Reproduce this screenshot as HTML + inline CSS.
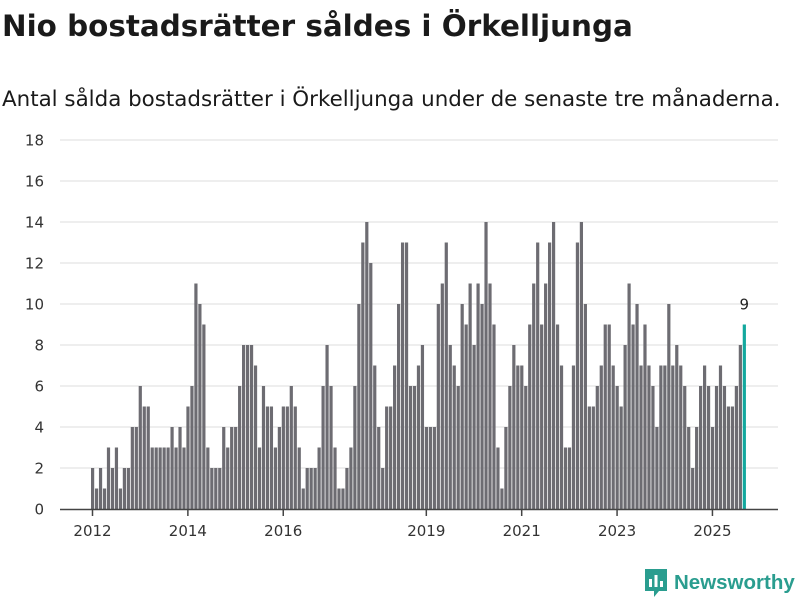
<!DOCTYPE html>
<html><head><meta charset="utf-8"><style>
body{margin:0;width:800px;height:600px;background:#fff;font-family:"DejaVu Sans","Liberation Sans",sans-serif;overflow:hidden;position:relative}
#title{position:absolute;left:2px;top:9px;font-size:29.4px;font-weight:bold;color:#1a1a1a;white-space:nowrap}
#sub{position:absolute;left:2px;top:87px;font-size:21.4px;color:#1a1a1a;white-space:nowrap}
svg{position:absolute;left:0;top:0}
#logo{position:absolute;left:645px;top:569px;display:flex;align-items:center}
#logo span{font-size:20.5px;color:#2a9d8f;font-weight:bold;margin-left:7px;font-family:"Liberation Sans",sans-serif}
</style></head><body>
<div id="title">Nio bostadsrätter såldes i Örkelljunga</div>
<div id="sub">Antal sålda bostadsrätter i Örkelljunga under de senaste tre månaderna.</div>
<svg id="chart" width="800" height="600"></svg>
<div id="logo">
<svg width="22" height="28" viewBox="0 0 22 28" style="position:static"><path d="M0 0h22v22h-8l-5 6v-6H0z" fill="#2a9d8f"/><rect x="4" y="10" width="3" height="8" fill="#fff"/><rect x="9.5" y="6" width="3" height="12" fill="#fff"/><rect x="15" y="12" width="3" height="6" fill="#fff"/></svg>
<span>Newsworthy</span></div>
<script>
const values=[2,1,2,1,3,2,3,1,2,2,4,4,6,5,5,3,3,3,3,3,4,3,4,3,5,6,11,10,9,3,2,2,2,4,3,4,4,6,8,8,
8,7,3,6,5,5,3,4,5,5,6,5,3,1,2,2,2,3,6,8,6,3,1,1,2,3,6,10,13,14,12,7,4,2,5,5,7,10,13,13,6,6,7,
8,4,4,4,10,11,13,8,7,6,10,9,11,8,11,10,14,11,9,3,1,4,6,8,7,7,6,9,11,13,9,11,13,14,9,7,3,3,7,13,14,10,
5,5,6,7,9,9,7,6,5,8,11,9,10,7,9,7,6,4,7,7,10,7,8,7,6,4,2,4,6,7,6,4,6,7,6,5,5,6,8,9];
const yTicks=[0,2,4,6,8,10,12,14,16,18];
const yearLabels=["2012","2014","2016","2019","2021","2023","2025"];
const yearIndex=[0,24,48,84,108,132,156];
const NS="http://www.w3.org/2000/svg";
const svg=document.getElementById('chart');
const x0=91,step=3.974,y0=509,yUnit=20.5;
const x=i=>x0+i*step;
const y=v=>y0-v*yUnit;
function mk(t,a){const e=document.createElementNS(NS,t);for(const k in a)e.setAttribute(k,a[k]);svg.appendChild(e);return e;}
yTicks.forEach(t=>{
 if(t>0){const g=mk('line',{x1:60,x2:778,y1:y(t),y2:y(t),stroke:'#dddddd','stroke-width':1});
 
 }
 const l=mk('text',{x:44,y:y(t)+5.5,'text-anchor':'end','font-size':15,fill:'#333','font-family':'DejaVu Sans, sans-serif'});
 l.textContent=t;
 
 
});
values.forEach((v,i)=>{
 const last=i===values.length-1;
 const r=mk('rect',{x:x(i),y:y(v),width:3.2,height:v*yUnit,fill:last?'#13a89e':'#6d6c72'});
 
 
});
const li=values.length-1;
const vl=mk('text',{x:x(li)+1.5,y:y(values[li])-15,'text-anchor':'middle','font-size':15,fill:'#222','font-family':'DejaVu Sans, sans-serif'});
vl.textContent=values[li];


const ax=mk('line',{x1:60,x2:778,y1:y0+0.5,y2:y0+0.5,stroke:'#444','stroke-width':1.5});


yearIndex.forEach((k,j)=>{
 const tx=x(k)+1.5;
 const tk=mk('line',{x1:tx,x2:tx,y1:y0,y2:y0+7,stroke:'#444','stroke-width':1.5});
 
 
 const t=mk('text',{x:tx,y:536,'text-anchor':'middle','font-size':15,fill:'#333','font-family':'DejaVu Sans, sans-serif'});
 t.textContent=yearLabels[j];
 
 
});
</script>
</body></html>
